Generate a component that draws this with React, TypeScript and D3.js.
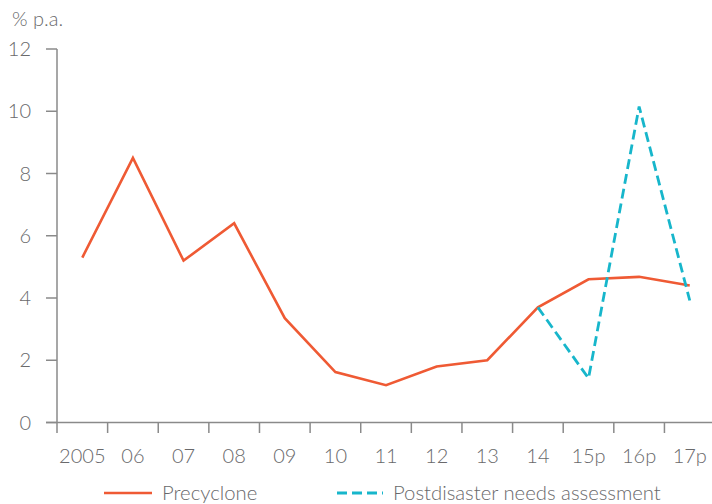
import React from "react";
import * as d3 from "d3";

const categories = ["2005", "06", "07", "08", "09", "10", "11", "12", "13", "14", "15p", "16p", "17p"];
const precyclone = [5.3, 8.5, 5.2, 6.4, 3.35, 1.62, 1.2, 1.8, 2.0, 3.7, 4.6, 4.68, 4.4];
const pdnaCategories = ["14", "15p", "16p", "17p"];
const pdna = [3.7, 1.42, 10.15, 3.92];
const yTicks = [0, 2, 4, 6, 8, 10, 12];
const seriesNames = ["Precyclone", "Postdisaster needs assessment"];

const W = 712, H = 504;
const FONT = "Lato, 'Open Sans', sans-serif";
const GRAY = "#69696b";
const AXIS = "#8a8a8a";
const ORANGE = "#ef5a34";
const TEAL = "#17b6cb";

export default function App() {
  const x = d3.scaleBand<string>().domain(categories).range([57, 57 + 13 * 50.62]);
  const y = d3.scaleLinear().domain([0, 12]).range([422.5, 49]);
  const cx = (c: string) => (x(c) as number) + x.bandwidth() / 2;

  const line = d3.line<[string, number]>().x(d => cx(d[0])).y(d => y(d[1]));
  const preData = categories.map((c, i) => [c, precyclone[i]] as [string, number]);
  const pdnaData = pdnaCategories.map((c, i) => [c, pdna[i]] as [string, number]);

  const boundaries = categories.map(c => x(c) as number).concat([(x(categories[categories.length - 1]) as number) + x.bandwidth()]);

  return (
    <svg width={W} height={H} style={{ position: "absolute", left: 0, top: 0 }} fontFamily={FONT}>
      <rect width={W} height={H} fill="#fff" />
      <text x={12} y={26} fontSize={20} fill={GRAY} fontWeight={300}>% p.a.</text>
      {/* y axis */}
      <line x1={57} x2={57} y1={y(12)} y2={y(0)} stroke={AXIS} strokeWidth={1.5} />
      {yTicks.map(t => (
        <g key={t}>
          <line x1={46} x2={57} y1={y(t)} y2={y(t)} stroke={AXIS} strokeWidth={1.5} />
          <text x={31} y={y(t)} dy="0.36em" textAnchor="end" fontSize={20} fill={GRAY} fontWeight={300}>{t}</text>
        </g>
      ))}
      {/* x axis */}
      <line x1={46} x2={W} y1={y(0)} y2={y(0)} stroke={AXIS} strokeWidth={1.5} />
      {boundaries.map((b, i) => (
        <line key={i} x1={b} x2={b} y1={y(0)} y2={433} stroke={AXIS} strokeWidth={1.5} />
      ))}
      {categories.map(c => (
        <text key={c} x={cx(c)} y={463} textAnchor="middle" fontSize={20} fill={GRAY} fontWeight={300}>{c}</text>
      ))}
      {/* lines */}
      <path d={line(preData) as string} fill="none" stroke={ORANGE} strokeWidth={2.6} strokeLinejoin="miter" />
      <path d={line(pdnaData) as string} fill="none" stroke={TEAL} strokeWidth={2.8} strokeDasharray="10,5" />
      {/* legend */}
      <line x1={104} x2={152} y1={493} y2={493} stroke={ORANGE} strokeWidth={2.6} />
      <text x={162} y={500} fontSize={20.3} fill={GRAY} fontWeight={300}>{seriesNames[0]}</text>
      <line x1={337} x2={383} y1={493} y2={493} stroke={TEAL} strokeWidth={2.8} strokeDasharray="10,5" />
      <text x={393} y={500} fontSize={20.3} fill={GRAY} fontWeight={300}>{seriesNames[1]}</text>
    </svg>
  );
}
